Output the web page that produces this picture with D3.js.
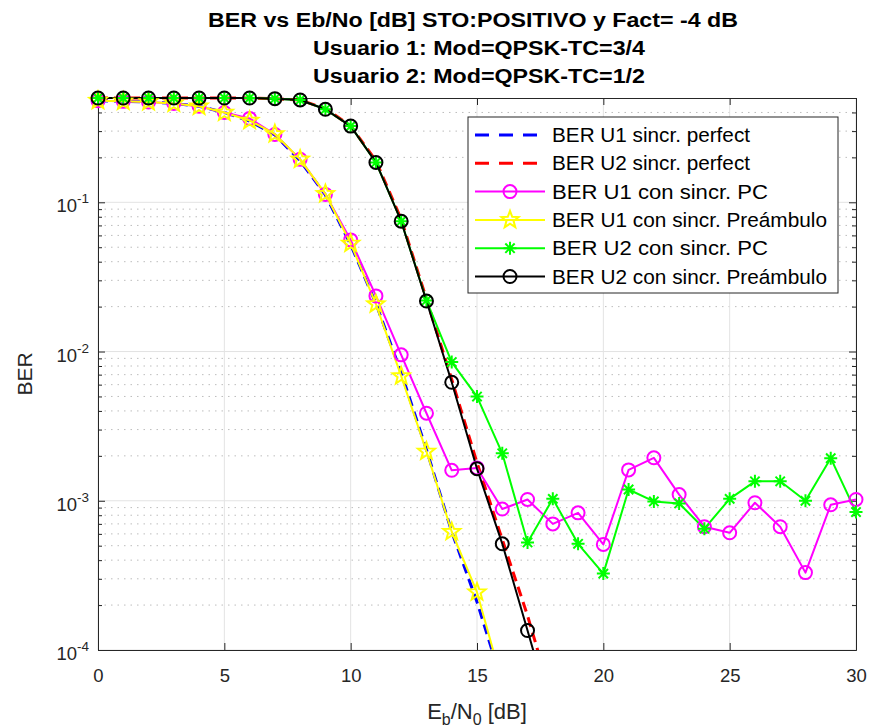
<!DOCTYPE html>
<html><head><meta charset="utf-8">
<script src="https://cdn.jsdelivr.net/npm/d3@7"></script>
<style>body{margin:0;background:#fff;}svg{display:block;font-family:"Liberation Sans",Arial,Helvetica,sans-serif;}</style>
</head><body><svg id="c" width="870" height="728"></svg>
<script>
const titleLines = ["BER vs Eb/No [dB] STO:POSITIVO y Fact= -4 dB","Usuario 1: Mod=QPSK-TC=3/4","Usuario 2: Mod=QPSK-TC=1/2"];
const xTicks = [0,5,10,15,20,25,30];
const yTickExps = [-4,-3,-2,-1];
const legendLabels = ["BER U1 sincr. perfect","BER U2 sincr. perfect","BER U1 con sincr. PC","BER U1 con sincr. Preámbulo","BER U2 con sincr. PC","BER U2 con sincr. Preámbulo"];

const ebnoPerfU1 = [0,1,2,3,4,5,6,7,8,9,10,11,12,13,14,15,16];
const berPerfU1 = [0.48,0.475,0.47,0.46,0.44,0.40,0.35,0.283,0.19,0.112,0.052,0.021,0.0072,0.0022,0.00062,0.00021,0.00006];
const ebnoPerfU2 = [0,1,2,3,4,5,6,7,8,9,10,11,12,13,14,15,16,17,18];
const berPerfU2 = [0.5,0.5,0.5,0.5,0.5,0.5,0.5,0.495,0.485,0.425,0.325,0.19,0.077,0.0225,0.0065,0.0018,0.00055,0.00017,0.000045];

const ebno = [0,1,2,3,4,5,6,7,8,9,10,11,12,13,14,15,16,17,18,19,20,21,22,23,24,25,26,27,28,29,30];
const berU1PC = [0.48,0.475,0.47,0.46,0.44,0.40,0.365,0.285,0.194,0.113,0.056,0.0236,0.0095,0.00386,0.0016,0.00166,0.00088,0.00102,0.0007,0.00083,0.00051,0.00161,0.00194,0.0011,0.00067,0.00061,0.00097,0.00067,0.00033,0.00094,0.00102];
const ebnoU1Pre = [0,1,2,3,4,5,6,7,8,9,10,11,12,13,14,15,16];
const berU1Pre = [0.48,0.475,0.47,0.46,0.44,0.40,0.353,0.287,0.194,0.114,0.053,0.0208,0.00685,0.00214,0.00062,0.000244,0.00006];
const berU2PC = [0.5,0.5,0.5,0.5,0.5,0.5,0.5,0.495,0.485,0.42,0.324,0.185,0.0747,0.022,0.0085,0.00499,0.00208,0.000526,0.00103,0.000515,0.000325,0.00119,0.00099,0.00096,0.00065,0.00103,0.00135,0.00135,0.001,0.00193,0.00084];
const ebnoU2Pre = [0,1,2,3,4,5,6,7,8,9,10,11,12,13,14,15,16,17,18];
const berU2Pre = [0.5,0.5,0.5,0.5,0.5,0.5,0.5,0.495,0.485,0.42,0.324,0.185,0.0747,0.0218,0.00622,0.00164,0.000515,0.000135,0.000035];

const L=98,R=856,T=98,B=650;
const svg=d3.select("#c");
const x=d3.scaleLinear().domain([0,30]).range([L,R]);
const y=d3.scaleLog().domain([1e-4,0.5]).range([B,T]);
const axisCol="#262626";

// title
const titleW=[530,332,332];
svg.append("g").selectAll("text").data(titleLines).join("text")
 .attr("x",(d,i)=>i===0?473:479).attr("y",(d,i)=>27+i*28).attr("text-anchor","middle")
 .attr("font-weight","bold").attr("font-size",20).attr("fill","#000")
 .attr("textLength",(d,i)=>titleW[i]).attr("lengthAdjust","spacingAndGlyphs").text(d=>d);

// grid
const grid=svg.append("g");
const minor=[];
for(let e=-4;e<0;e++){for(let m=2;m<=9;m++){const v=m*Math.pow(10,e); if(v<0.5) minor.push(v);}}
grid.selectAll("line.mn").data(minor).join("line").attr("x1",L).attr("x2",R)
 .attr("y1",d=>y(d)).attr("y2",d=>y(d)).attr("stroke","#bdbdbd").attr("stroke-width",1).attr("stroke-dasharray","1.5,5");
grid.selectAll("line.mj").data(yTickExps.map(e=>Math.pow(10,e))).join("line").attr("x1",L).attr("x2",R)
 .attr("y1",d=>y(d)).attr("y2",d=>y(d)).attr("stroke","#e3e3e3").attr("stroke-width",1);
grid.selectAll("line.xg").data(xTicks).join("line").attr("y1",T).attr("y2",B)
 .attr("x1",d=>x(d)).attr("x2",d=>x(d)).attr("stroke","#e3e3e3").attr("stroke-width",1);

// axes via d3
const yMajorVals=yTickExps.map(e=>Math.pow(10,e));
const gxB=svg.append("g").attr("transform",`translate(0,${B})`).call(d3.axisBottom(x).tickValues(xTicks).tickSizeInner(-7).tickSizeOuter(0).tickPadding(19));
const gxT=svg.append("g").attr("transform",`translate(0,${T})`).call(d3.axisTop(x).tickValues(xTicks).tickSizeInner(-7).tickSizeOuter(0).tickFormat(""));
const gyL=svg.append("g").attr("transform",`translate(${L},0)`).call(d3.axisLeft(y).tickValues(yMajorVals).tickSizeInner(-7).tickSizeOuter(0).tickFormat(""));
const gyR=svg.append("g").attr("transform",`translate(${R},0)`).call(d3.axisRight(y).tickValues(yMajorVals).tickSizeInner(-7).tickSizeOuter(0).tickFormat(""));
const gyLm=svg.append("g").attr("transform",`translate(${L},0)`).call(d3.axisLeft(y).tickValues(minor).tickSizeInner(-4).tickSizeOuter(0).tickFormat(""));
const gyRm=svg.append("g").attr("transform",`translate(${R},0)`).call(d3.axisRight(y).tickValues(minor).tickSizeInner(-4).tickSizeOuter(0).tickFormat(""));
[gxB,gxT,gyL,gyR,gyLm,gyRm].forEach(g=>{g.select(".domain").attr("stroke",axisCol).attr("stroke-width",1);
 g.selectAll(".tick line").attr("stroke",axisCol);});
gxB.selectAll(".tick text").attr("font-size",18.5).attr("fill",axisCol).attr("font-family","Liberation Sans,Arial,sans-serif");

// y tick labels with superscript
const ylab=svg.append("g");
yTickExps.forEach(e=>{
 const t=ylab.append("text").attr("x",89).attr("y",y(Math.pow(10,e))+10).attr("text-anchor","end").attr("fill",axisCol).attr("font-size",18.5);
 t.append("tspan").text("10");
 t.append("tspan").attr("dy",-9).attr("font-size",13.5).text(String(e));
});

// axis labels
svg.append("text").attr("transform",`translate(32,${(T+B)/2}) rotate(-90)`).attr("text-anchor","middle")
 .attr("font-size",21).attr("fill",axisCol).text("BER");
const xl=svg.append("text").attr("x",(L+R)/2).attr("y",719).attr("text-anchor","middle").attr("font-size",22).attr("fill",axisCol);
xl.append("tspan").text("E");
xl.append("tspan").attr("dy",6).attr("font-size",16).text("b");
xl.append("tspan").attr("dy",-6).text("/N");
xl.append("tspan").attr("dy",6).attr("font-size",16).text("0");
xl.append("tspan").attr("dy",-6).text(" [dB]");

// clip
svg.append("clipPath").attr("id","clip").append("rect").attr("x",L).attr("y",T-10).attr("width",R-L).attr("height",B-T+10);
const plot=svg.append("g");
const lineG=plot.append("g").attr("clip-path","url(#clip)");
const line=d3.line().x(d=>x(d[0])).y(d=>y(d[1]));
const zip=(a,b)=>a.map((v,i)=>[v,b[i]]);

function starPath(r){const ri=r*0.42;let p="";for(let i=0;i<10;i++){const a=-Math.PI/2+i*Math.PI/5;const rr=i%2?ri:r;p+=(i?"L":"M")+(rr*Math.cos(a)).toFixed(2)+","+(rr*Math.sin(a)).toFixed(2);}return p+"Z";}
function asterPath(r){const d=r*0.72;return `M0,${-r}L0,${r}M${-r},0L${r},0M${-d},${-d}L${d},${d}M${-d},${d}L${d},${-d}`;}

const series=[
 {xs:ebnoPerfU1,ys:berPerfU1,color:"#0000ff",dash:"10,6",w:3,marker:null},
 {xs:ebnoPerfU2,ys:berPerfU2,color:"#ff0000",dash:"10,6",w:3,marker:null},
 {xs:ebno,ys:berU1PC,color:"#ff00ff",dash:null,w:2,marker:"circle"},
 {xs:ebnoU1Pre,ys:berU1Pre,color:"#ffff00",dash:null,w:2,marker:"star"},
 {xs:ebno,ys:berU2PC,color:"#00ff00",dash:null,w:2,marker:"aster"},
 {xs:ebnoU2Pre,ys:berU2Pre,color:"#000000",dash:null,w:2,marker:"circle"}
];
function drawMarker(g,type,color,cx,cy){
 if(type==="circle") g.append("circle").attr("cx",cx).attr("cy",cy).attr("r",6.5).attr("fill","none").attr("stroke",color).attr("stroke-width",2);
 else if(type==="star") g.append("path").attr("d",starPath(9)).attr("transform",`translate(${cx},${cy})`).attr("fill","none").attr("stroke",color).attr("stroke-width",2);
 else if(type==="aster") g.append("path").attr("d",asterPath(6.5)).attr("transform",`translate(${cx},${cy})`).attr("fill","none").attr("stroke",color).attr("stroke-width",2);
}
series.forEach(s=>{
 const pts=zip(s.xs,s.ys);
 const p=lineG.append("path").datum(pts).attr("d",line).attr("fill","none").attr("stroke",s.color).attr("stroke-width",s.w).attr("stroke-linejoin","round");
 if(s.dash) p.attr("stroke-dasharray",s.dash);
 if(s.marker){const mg=plot.append("g");pts.filter(d=>d[1]>=1e-4).forEach(d=>drawMarker(mg,s.marker,s.color,x(d[0]),y(d[1])));}
});

// legend
const lg=svg.append("g");
const lx=468,ly=117,lw=370,lh=176;
const legW=[198,198,216,275,216,275];
lg.append("rect").attr("x",lx).attr("y",ly).attr("width",lw).attr("height",lh).attr("fill","#fff").attr("stroke","#262626").attr("stroke-width",1);
series.forEach((s,i)=>{
 const cy=ly+18+i*28.3;
 const l=lg.append("line").attr("x1",lx+7).attr("x2",lx+77).attr("y1",cy).attr("y2",cy).attr("stroke",s.color).attr("stroke-width",s.w);
 if(s.dash) l.attr("stroke-dasharray","14,10");
 if(s.marker) drawMarker(lg,s.marker,s.color,lx+42,cy);
 lg.append("text").attr("x",lx+84).attr("y",cy+7).attr("font-size",20.5).attr("fill","#000")
  .attr("textLength",legW[i]).attr("lengthAdjust","spacingAndGlyphs").text(legendLabels[i]);
});
</script></body></html>
